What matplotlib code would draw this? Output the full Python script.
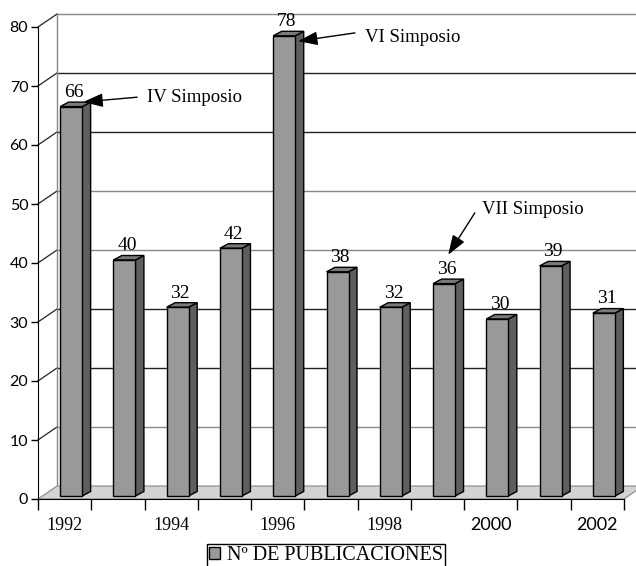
import matplotlib
matplotlib.use('Agg')
import matplotlib.pyplot as plt
from matplotlib.patches import Polygon, Patch

years = [1992, 1993, 1994, 1995, 1996, 1997, 1998, 1999, 2000, 2001, 2002]
publicaciones = [66, 40, 32, 42, 78, 38, 32, 36, 30, 39, 31]
year_labels = ['1992', '1994', '1996', '1998', '2000', '2002']
y_ticks = [0, 10, 20, 30, 40, 50, 60, 70, 80]
legend_label = 'Nº DE PUBLICACIONES'

# (bar index, text, tip offset, tail offset, text offset) in data units
annotations = [
    (0, 'IV Simposio', (0.35, 1.3), (1.36, 2.1), (1.55, 2.0)),
    (4, 'VI Simposio', (0.38, -0.4), (1.45, 1.0), (1.64, 0.3)),
    (7, 'VII Simposio', (0.20, 5.4), (0.70, 12.5), (0.83, 13.0)),
]

SERIF = ['Liberation Serif', 'DejaVu Serif']
SANS = ['Lato', 'DejaVu Sans']

W, H = 636, 566
fig = plt.figure(figsize=(W / 100, H / 100), dpi=100)
ax = fig.add_axes([38 / W, 67 / H, 586 / W, 472 / H])
n = len(years)
ax.set_xlim(-0.5, n - 0.5)
ax.set_ylim(0, 80)
ax.patch.set_visible(False)

ppx = 586 / n   # pixels per category
ppy = 472 / 80  # pixels per unit

def px(dx, dy):
    return dx / ppx, dy / ppy

WDX, WDY = px(19, 13)      # wall depth
BFX, BFY = px(6.5, 3)      # bar front offset
BSX, BSY = px(8.5, 4.5)    # bar depth
HW = 11 / ppx              # bar half width

x0, x1 = -0.5, n - 0.5

# back wall gridlines
grid_cols = {0: '#777777', 10: '#888888', 20: '#222222', 30: '#222222',
             40: '#888888', 50: '#888888', 60: '#222222', 70: '#222222', 80: '#888888'}
for v in y_ticks[1:]:
    ax.plot([x0 + WDX, x1 + WDX + 1], [v + WDY, v + WDY], color=grid_cols[v],
            lw=1, clip_on=False, zorder=1)
    # side wall diagonals
    ax.plot([x0, x0 + WDX], [v, v + WDY], color='#222222', lw=0.9,
            clip_on=False, zorder=1)
ax.plot([x0 + WDX, x0 + WDX], [WDY, 80 + WDY], color='#888888', lw=1,
        clip_on=False, zorder=1)

# floor
floor = Polygon([(x0, 0), (x1, 0), (x1 + WDX, WDY), (x0 + WDX, WDY)],
                closed=True, facecolor='#d3d3d3', edgecolor='#888888', lw=0.8,
                clip_on=False, zorder=2)
ax.add_patch(floor)

# bars
for i, v in enumerate(publicaciones):
    l = i - HW + BFX
    r = i + HW + BFX
    b = BFY
    t = v + BFY
    front = Polygon([(l, b), (r, b), (r, t), (l, t)], closed=True,
                    facecolor='#999999', edgecolor='black', lw=1, zorder=5,
                    clip_on=False)
    side = Polygon([(r, b), (r + BSX, b + BSY), (r + BSX, t + BSY), (r, t)],
                   closed=True, facecolor='#5e5e5e', edgecolor='black', lw=1,
                   zorder=4, clip_on=False)
    top = Polygon([(l, t), (r, t), (r + BSX, t + BSY), (l + BSX, t + BSY)],
                  closed=True, facecolor='#7a7a7a', edgecolor='black', lw=1,
                  zorder=4, clip_on=False)
    for p in (side, top, front):
        ax.add_patch(p)
    ax.text(i + BFX + BSX / 2 - 0.03, t + BSY + 0.2, str(v), ha='center',
            va='bottom', fontsize=14, family=SERIF, zorder=6)

# annotations
for i, label, tip, tail, txt in annotations:
    v = publicaciones[i]
    ax.annotate('', xy=(i + tip[0], v + tip[1]), xytext=(i + tail[0], v + tail[1]),
                arrowprops=dict(arrowstyle='-|>,head_length=1.2,head_width=0.42',
                                color='black', lw=1, shrinkA=0, shrinkB=0),
                zorder=7, annotation_clip=False)
    ax.text(i + txt[0], v + txt[1], label, ha='left', va='center',
            fontsize=13.5, family=SERIF, zorder=7)

# axes
for s in ('top', 'right'):
    ax.spines[s].set_visible(False)
ax.spines['left'].set_color('black')
ax.spines['bottom'].set_color('black')
ax.spines['bottom'].set_zorder(3)

ax.set_yticks(y_ticks)
ax.set_yticklabels([str(t) for t in y_ticks], family=SANS, fontsize=11.5)
ax.tick_params(axis='y', direction='out', length=5, width=1, pad=2)

ax.set_xticks([k - 0.5 for k in range(n + 1)])
ax.set_xticklabels([])
ax.tick_params(axis='x', which='major', direction='out', length=8, width=1)
ax.set_xticks(list(range(0, n, 2)), minor=True)
ax.set_xticklabels(year_labels, minor=True, fontsize=13)
ax.tick_params(axis='x', which='minor', length=0, pad=13)
for lab in ax.get_xticklabels(minor=True):
    lab.set_family(SERIF if lab.get_text().startswith('19') else SANS)

leg = fig.legend(handles=[Patch(facecolor='#999999', edgecolor='black', lw=1)],
                 labels=[legend_label], loc='upper center',
                 bbox_to_anchor=(326 / W, 1 - 544 / H), frameon=True,
                 fancybox=False, edgecolor='black', framealpha=1,
                 prop={'family': SERIF, 'size': 14.5}, handlelength=0.55,
                 handleheight=0.55, handletextpad=0.35, borderpad=0.12,
                 borderaxespad=0)
leg.get_frame().set_linewidth(1)

fig.savefig('out.png', dpi=100)
